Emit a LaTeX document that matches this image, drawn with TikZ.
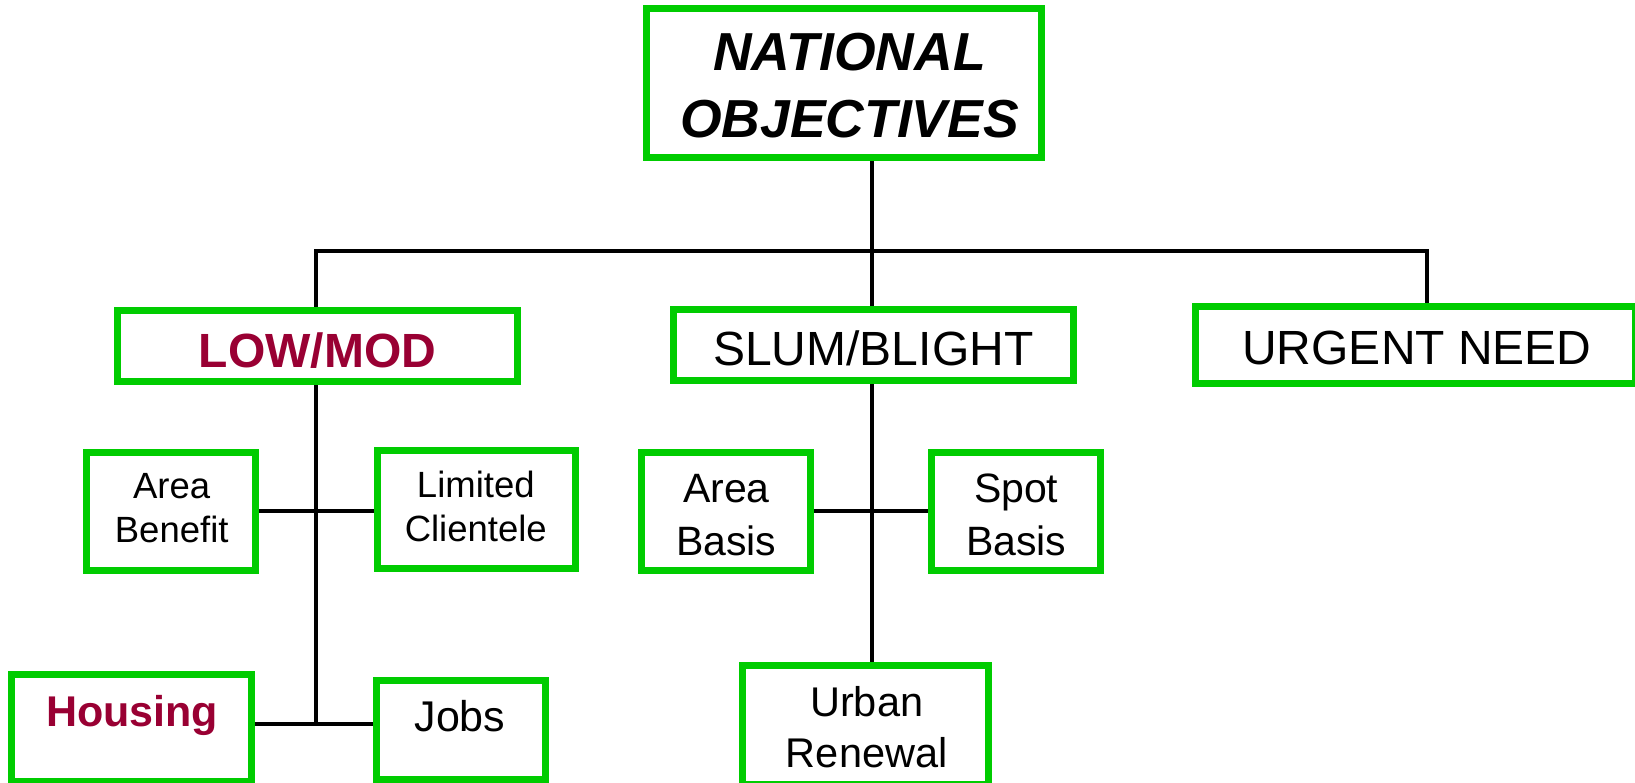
\documentclass[tikz,border=0pt]{standalone}
\usepackage{fontspec}
\setmainfont{Liberation Sans}
\definecolor{boxgreen}{RGB}{0,204,0}
\definecolor{lowred}{RGB}{153,0,51}
\begin{document}
\begin{tikzpicture}[x=1pt,y=-1pt,
  box/.style={draw=boxgreen,line width=7pt,inner sep=0pt,outer sep=0pt},
  conn/.style={draw=black,line width=4pt,line join=miter},
  txt/.style={inner sep=0pt,outer sep=0pt,align=center,text=black}]
\useasboundingbox[fill=white] (0,0) rectangle (1635,783);
% column coordinates of the connectors
\coordinate (lx) at (315.7,0);
\coordinate (sx) at (871.7,0);
\coordinate (ux) at (1427,0);
\coordinate (hy) at (0,250.7);
\coordinate (cy) at (0,510.7);
\coordinate (by) at (0,724.3);
% boxes (empty, text placed separately)
\path (844,83) node[box,minimum width=395pt,minimum height=149pt] (nat) {};
\path (317.5,345.8) node[box,minimum width=400pt,minimum height=71.5pt] (low) {};
\path (873.3,344.8) node[box,minimum width=399.7pt,minimum height=71.3pt] (slum) {};
\path (1415.3,344.8) node[box,minimum width=440.3pt,minimum height=76.7pt] (urgent) {};
\path (171,511.5) node[box,minimum width=169pt,minimum height=118pt] (ab) {};
\path (476.5,509.2) node[box,minimum width=198pt,minimum height=118pt] (lc) {};
\path (726,511.5) node[box,minimum width=169pt,minimum height=118pt] (abs) {};
\path (1016,511.5) node[box,minimum width=169pt,minimum height=118pt] (sb) {};
\path (131.7,727.6) node[box,minimum width=239.7pt,minimum height=106.8pt] (housing) {};
\path (460.8,729.8) node[box,minimum width=169.3pt,minimum height=99.3pt] (jobs) {};
\path (865.5,724.6) node[box,minimum width=245.4pt,minimum height=118.8pt] (ur) {};
% connectors
\begin{scope}[on background layer/.style={}]
\draw[conn] (sx |- nat.south) -- (sx |- slum.north);
\draw[conn] (lx |- low.north) -- (lx |- hy) -- (ux |- hy) -- (ux |- urgent.north);
\draw[conn] (lx |- low.south) -- (lx |- by);
\draw[conn] (ab.east |- cy) -- (lc.west |- cy);
\draw[conn] (housing.east |- by) -- (jobs.west |- by);
\draw[conn] (sx |- slum.south) -- (sx |- ur.north);
\draw[conn] (abs.east |- cy) -- (sb.west |- cy);
\end{scope}
% redraw boxes on top of connector ends
\foreach \n in {nat,low,slum,urgent,ab,lc,abs,sb,housing,jobs,ur}
  \draw[boxgreen,line width=7pt] (\n.north west) rectangle (\n.south east);
% texts
\node[txt,font=\fontsize{53.5}{66.3}\selectfont\bfseries\itshape] (natt) at (849.5,85.5) {NATIONAL\\OBJECTIVES};
\node[txt,anchor=base,font=\fontsize{48}{58}\selectfont\bfseries,text=lowred] (lowt) at (317.5,367.7) {LOW/MOD};
\node[txt,anchor=base,font=\fontsize{48}{58}\selectfont] (slumt) at (873.3,366) {SLUM/BLIGHT};
\node[txt,anchor=base,font=\fontsize{48}{58}\selectfont] (urgentt) at (1417,364) {URGENT NEED};
\node[txt,font=\fontsize{36.5}{44.5}\selectfont] (abt) at (171.7,508.3) {Area\\Benefit};
\node[txt,font=\fontsize{36.5}{44.2}\selectfont] (lct) at (475.8,506.2) {Limited\\Clientele};
\node[txt,font=\fontsize{41}{52.4}\selectfont] (abst) at (726.3,515) {Area\\Basis};
\node[txt,font=\fontsize{41}{52.4}\selectfont] (sbt) at (1016.2,514.7) {Spot\\Basis};
\node[txt,anchor=base,font=\fontsize{43}{52}\selectfont\bfseries,text=lowred] (housingt) at (132.2,726) {Housing};
\node[txt,anchor=base,font=\fontsize{43}{52}\selectfont] (jobst) at (460,731.7) {Jobs};
\node[txt,font=\fontsize{41.5}{51}\selectfont] (urt) at (866.7,727.2) {Urban\\Renewal};
\end{tikzpicture}
\end{document}
